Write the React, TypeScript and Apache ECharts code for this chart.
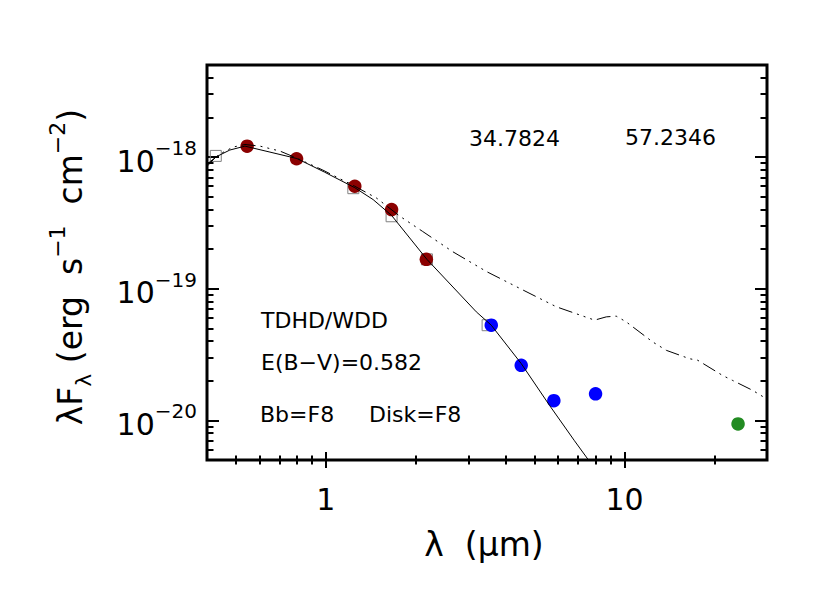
import React, { useEffect, useRef } from 'react';
import * as echarts from 'echarts';

// ---- axis ranges and ticks ----
const X_MIN = 0.4;
const X_MAX = 30;
const Y_MIN = 5e-21;
const Y_MAX = 5e-18;
const xMajorTicks = [1, 10];
const xMinorTicks = [0.5, 0.6, 0.7, 0.8, 0.9, 2, 3, 4, 5, 6, 7, 8, 9, 20];
const yMajorTicks = [1e-20, 1e-19, 1e-18];
const yMinorTicks = [
  6e-21, 7e-21, 8e-21, 9e-21,
  2e-20, 3e-20, 4e-20, 5e-20, 6e-20, 7e-20, 8e-20, 9e-20,
  2e-19, 3e-19, 4e-19, 5e-19, 6e-19, 7e-19, 8e-19, 9e-19,
  2e-18, 3e-18, 4e-18,
];

// ---- observed photometry ----
const redLambda = [0.545, 0.798, 1.25, 1.66, 2.17];
const redFlux = [1.21e-18, 9.7e-19, 6.0e-19, 3.99e-19, 1.67e-19];
const blueLambda = [3.58, 4.51, 5.8, 8.0];
const blueFlux = [5.28e-20, 2.62e-20, 1.41e-20, 1.59e-20];
const greenLambda = [24.0];
const greenFlux = [9.4e-21];

// ---- model photometry (open squares) ----
const modelLambda = [0.428, 1.236, 1.66, 2.18, 3.48];
const modelFlux = [1.02e-18, 5.8e-19, 3.55e-19, 1.67e-19, 5.28e-20];

// ---- model SED (solid) ----
const solidLambda = [0.401, 0.428, 0.477, 0.536, 0.65, 0.8, 0.99, 1.25, 1.44, 1.66, 2.18, 3.19, 3.58, 4.51, 5.61, 6.8, 7.68, 8.25];
const solidFlux = [8.54e-19, 1.0e-18, 1.13e-18, 1.21e-18, 1.09e-18, 9.74e-19, 7.68e-19, 5.85e-19, 4.75e-19, 3.6e-19, 1.67e-19, 6.67e-20, 5.28e-20, 2.7e-20, 1.3e-20, 7.0e-21, 4.79e-21, 3.8e-21];

// ---- model SED with disk (dash-dot-dot-dot) ----
const diskLambda = [0.4, 0.442, 0.489, 0.536, 0.602, 0.702, 0.8, 0.977, 1.25, 1.48, 1.77, 2.11, 2.66, 3.45, 4.56, 5.91, 7.94, 8.69, 9.38, 10.13, 12.43, 13.82, 16.5, 17.59, 21.32, 23.02, 26.86, 30.0];
const diskFlux = [8.85e-19, 1.054e-18, 1.19e-18, 1.245e-18, 1.21e-18, 1.11e-18, 9.8e-19, 7.96e-19, 6.0e-19, 4.87e-19, 3.55e-19, 2.72e-19, 1.91e-19, 1.35e-19, 9.8e-20, 7.29e-20, 5.77e-20, 6.11e-20, 6.19e-20, 5.6e-20, 3.94e-20, 3.4e-20, 2.94e-20, 2.86e-20, 2.19e-20, 2.01e-20, 1.69e-20, 1.45e-20];

const FONT = '"DejaVu Sans", "Liberation Sans", sans-serif';

function pairs(xs: number[], ys: number[]) {
  return xs.map((x, i) => [x, ys[i]]);
}

function xAxisDef(position: string, ticks: number[], length: number, labels: boolean) {
  return {
    type: 'log',
    logBase: 10,
    min: X_MIN,
    max: X_MAX,
    position,
    axisLine: { show: false },
    axisTick: { show: true, inside: true, length, customValues: ticks, lineStyle: { color: '#000', width: 2 } },
    axisLabel: labels
      ? {
          show: true,
          customValues: xMajorTicks,
          margin: 24,
          color: '#000',
          fontSize: 30,
          fontFamily: FONT,
          formatter: (v: number) => String(Math.round(v)),
        }
      : { show: false },
    splitLine: { show: false },
    minorTick: { show: false },
    minorSplitLine: { show: false },
  };
}

function yAxisDef(position: string, ticks: number[], length: number, labels: boolean) {
  return {
    type: 'log',
    logBase: 10,
    min: Y_MIN,
    max: Y_MAX,
    position,
    axisLine: { show: false },
    axisTick: { show: true, inside: true, length, customValues: ticks, lineStyle: { color: '#000', width: 2 } },
    axisLabel: labels
      ? {
          show: true,
          customValues: yMajorTicks,
          margin: 10,
          color: '#000',
          padding: [8, 0, 0, 0],
          formatter: (v: number) => '{b|10}{s|\u2212' + String(-Math.round(Math.log10(v))) + '}',
          rich: {
            b: { fontSize: 30, lineHeight: 46, fontFamily: FONT, color: '#000' },
            s: { fontSize: 20, lineHeight: 20, fontFamily: FONT, color: '#000', verticalAlign: 'top' },
          },
        }
      : { show: false },
    splitLine: { show: false },
    minorTick: { show: false },
    minorSplitLine: { show: false },
  };
}

function txt(text: string, x: number, y: number, size: number, align = 'left') {
  return {
    type: 'text',
    x,
    y,
    z: 10,
    style: { text, fill: '#000', fontSize: size, fontFamily: FONT, align, verticalAlign: 'middle' },
  };
}

function dots(name: string, xs: number[], ys: number[], color: string, size: number) {
  return {
    type: 'scatter',
    name,
    symbolSize: size,
    z: 3,
    itemStyle: { color, opacity: 1 },
    emphasis: { disabled: true },
    data: pairs(xs, ys),
  };
}

export default function App() {
  const ref = useRef<HTMLDivElement>(null);
  useEffect(() => {
    if (!ref.current) return;
    const chart = echarts.init(ref.current, null, { renderer: 'svg' });
    const option = {
      animation: false,
      backgroundColor: '#fff',
      grid: { left: 207, top: 65, width: 560, height: 395, show: true, borderColor: '#000', borderWidth: 3, backgroundColor: 'transparent' },
      xAxis: [
        xAxisDef('bottom', xMajorTicks, 8, true),
        xAxisDef('bottom', xMinorTicks, 4.5, false),
        xAxisDef('top', xMajorTicks, 8, false),
        xAxisDef('top', xMinorTicks, 4.5, false),
      ],
      yAxis: [
        yAxisDef('left', yMajorTicks, 12, true),
        yAxisDef('left', yMinorTicks, 6.5, false),
        yAxisDef('right', yMajorTicks, 12, false),
        yAxisDef('right', yMinorTicks, 6.5, false),
      ],
      series: [
        {
          type: 'scatter',
          name: 'model photometry',
          symbol: 'rect',
          symbolSize: 11,
          z: 2,
          emphasis: { disabled: true },
          itemStyle: { color: 'rgba(0,0,0,0)', borderColor: '#808080', borderWidth: 1, opacity: 1 },
          data: pairs(modelLambda, modelFlux),
        },
        dots('optical/NIR', redLambda, redFlux, '#8b0000', 13.5),
        dots('IRAC', blueLambda, blueFlux, '#0000ff', 13.5),
        dots('MIPS', greenLambda, greenFlux, '#228b22', 13.5),
        {
          type: 'line',
          name: 'star',
          symbol: 'none',
          showSymbol: false,
          z: 4,
          clip: true,
          lineStyle: { color: '#000', width: 1 },
          data: pairs(solidLambda, solidFlux),
        },
        {
          type: 'line',
          name: 'star+disk',
          symbol: 'none',
          showSymbol: false,
          z: 4,
          clip: true,
          lineStyle: { color: '#000', width: 1, type: [14, 5, 2, 5, 2, 5, 2, 5] },
          data: pairs(diskLambda, diskFlux),
        },
      ],
      graphic: [
        txt('34.7824', 469, 138, 22),
        txt('57.2346', 625, 137, 22),
        txt('TDHD/WDD', 261, 320, 22),
        txt('E(B\u2212V)=0.582', 261, 362, 22),
        txt('Bb=F8', 260, 414, 22),
        txt('Disk=F8', 369, 414, 22),
        txt('\u03bb  (\u03bcm)', 484, 544, 33, 'center'),
        {
          type: 'text',
          x: 70,
          y: 267,
          rotation: Math.PI / 2,
          z: 10,
          style: {
            text: '{a|\u03bbF}{sub|\u03bb}{a| (erg  s}{sup|\u22121}{a|  cm}{sup|\u22122}{a|)}',
            align: 'center',
            verticalAlign: 'middle',
            fill: '#000',
            rich: {
              a: { fontSize: 33, lineHeight: 48, fontFamily: FONT, fill: '#000', color: '#000' },
              sup: { fontSize: 22, lineHeight: 22, fontFamily: FONT, fill: '#000', color: '#000', verticalAlign: 'top' },
              sub: { fontSize: 22, lineHeight: 36, fontFamily: FONT, fill: '#000', color: '#000', verticalAlign: 'bottom' },
            },
          },
        },
      ],
    };
    chart.setOption(option as any);
    return () => chart.dispose();
  }, []);
  return <div ref={ref} style={{ position: 'absolute', left: 0, top: 0, width: 830, height: 593 }} />;
}
